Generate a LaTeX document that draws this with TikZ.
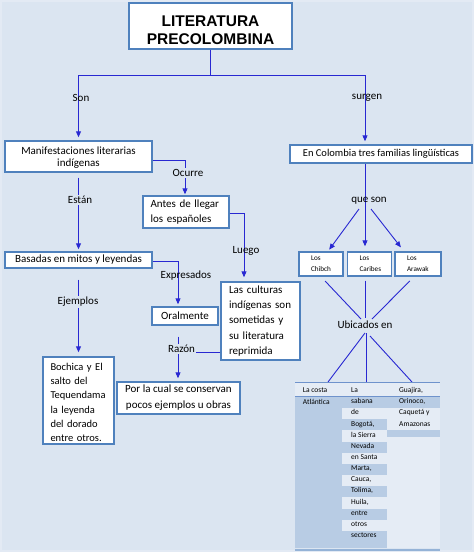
\documentclass[tikz,border=0pt]{standalone}
\usepackage{fontspec}
\setmainfont{Carlito}
\newfontfamily\titlefont{Liberation Sans}
\usetikzlibrary{arrows.meta}
\definecolor{bgc}{HTML}{DBE5F1}
\definecolor{bgedge}{HTML}{E3EAF4}
\definecolor{boxc}{HTML}{4F81BD}
\definecolor{arrc}{HTML}{2828D2}
\definecolor{cellL}{HTML}{E5ECF5}
\definecolor{cellD}{HTML}{B8CCE4}
\definecolor{tline}{HTML}{6F93CC}
\definecolor{tbot}{HTML}{95B3D7}
\begin{document}
\begin{tikzpicture}[x=1pt,y=-1pt,
  box/.style={draw=boxc,line width=1.4pt,fill=white,inner sep=0pt,font=\fontsize{11}{14}\selectfont},
  conn/.style={draw=arrc,line width=0.9pt},
  arr/.style={conn,-{Triangle[width=5pt,length=6pt]}},
  lab/.style={font=\fontsize{11}{13}\selectfont,inner sep=1pt},
  labf/.style={lab,fill=bgc},
  lbox/.style={box,align=left,text width=20pt,inner xsep=12pt,minimum height=24pt,font=\fontsize{7.2}{11}\selectfont},
  tbl/.style={font=\fontsize{7.5}{11}\selectfont,anchor=base west,inner sep=0pt}
]
\fill[bgc] (0,0) rectangle (474,552);
\draw[bgedge,line width=2pt] (1,1) rectangle (473,551);
\useasboundingbox (0,0) rectangle (474,552);

% boxes
\node[box,minimum width=163pt,minimum height=46pt,align=center,
  font=\titlefont\bfseries\fontsize{15.5}{18.6}\selectfont] (title) at (210.5,26) {\rule{0pt}{19pt}LITERATURA\\PRECOLOMBINA};
\node[box,minimum width=147pt,minimum height=31pt,align=center,font=\fontsize{11}{12.6}\selectfont] (mani) at (78.5,156.5) {\rule{0pt}{10pt}Manifestaciones literarias\\indígenas};
\node[box,minimum width=86pt,minimum height=32pt,align=left,text width=71pt,inner xsep=7.5pt,font=\fontsize{11}{14.7}\selectfont] (antes) at (186,212) {Antes de llegar\\los españoles};
\node[box,minimum width=147pt,minimum height=16pt] (basadas) at (78.5,260) {Basadas en mitos y leyendas};
\node[box,minimum width=66pt,minimum height=18pt] (oral) at (185,316) {Oralmente};
\node[box,minimum width=79pt,minimum height=78pt,align=left,text width=63pt,inner xsep=8pt,font=\fontsize{11}{15.4}\selectfont] (culturas) at (260.5,321) {Las culturas\\indígenas son\\sometidas y\\su literatura\\reprimida};
\node[box,minimum width=123pt,minimum height=32pt,align=center,font=\fontsize{11}{16}\selectfont] (por) at (178.5,398) {Por la cual se conservan\\pocos ejemplos u obras};
\node[box,minimum width=71pt,minimum height=87pt,align=left,text width=56pt,inner xsep=7.5pt,font=\fontsize{10.5}{14.1}\selectfont] (bochica) at (78.5,400.5) {\rule{0pt}{11pt}Bochica y El\\salto del\\Tequendama\\la leyenda\\del dorado\\entre otros.};
\node[box,minimum width=182pt,minimum height=18pt,font=\fontsize{10.5}{13}\selectfont] (colom) at (381,154) {En Colombia tres familias lingüísticas};
\node[lbox] (chibch) at (321,264) {Los\\Chibch};
\node[lbox] (caribes) at (369.5,264) {Los\\Caribes};
\node[lbox,text width=22pt] (arawak) at (418,264) {Los\\Arawak};

% connectors
\coordinate (j) at (210.5,75);
\draw[conn] (title.south) -- (j);
\draw[arr,shorten >=3pt] (j) -| (mani.north);
\draw[arr,shorten >=3pt] (j) -| ([xshift=-16pt]colom.north);
\draw[arr,shorten >=1pt] ([yshift=-3.5pt]mani.east) -| ([xshift=-1pt]antes.north);
\draw[arr,shorten >=4pt] ([yshift=-1pt]antes.east) -| ([xshift=-16.5pt]culturas.north);
\draw[arr,shorten <=5pt,shorten >=2pt] (mani.south) -- (basadas.north);
\draw[arr,shorten >=2pt] ([yshift=-1pt]basadas.east) -| ([xshift=-7pt]oral.north);
\draw[arr,shorten <=11pt,shorten >=4pt] (basadas.south) -- (bochica.north);
\draw[arr,shorten <=11pt,shorten >=3pt] ([xshift=-7pt]oral.south) -- ([xshift=-0.5pt]por.north);
\coordinate (rz) at (195,352);
\draw[conn] ([yshift=-31pt]culturas.west) -- (rz);

\coordinate (qs) at (365,210);
\coordinate (qsL) at (359,209);
\coordinate (qsR) at (371,209);
\draw[conn] ([xshift=-16pt]colom.south) -- (qs);
\draw[arr,shorten >=2pt] (qsL) -- ([xshift=7pt]chibch.north);
\draw[arr,shorten >=5pt] (qs) -- ([xshift=-4.5pt]caribes.north);
\draw[arr,shorten >=5pt] (qsR) -- ([xshift=-14pt]arawak.north);

\coordinate (ub1) at (361,319);
\coordinate (ub2) at (365,318);
\coordinate (ub3) at (372,319);
\draw[conn,shorten <=6pt] (chibch.south) -- (ub1);
\draw[conn,shorten <=4pt] ([xshift=-4.5pt]caribes.south) -- (ub2);
\draw[conn,shorten <=6pt] ([xshift=-4pt]arawak.south) -- (ub3);
\coordinate (ud1) at (365,333);
\coordinate (ud2) at (366,333);
\coordinate (ud3) at (370,336);
\coordinate (e1) at (328,382);
\coordinate (e2) at (366,382);
\coordinate (e3) at (412,382);
\draw[conn] (ud1) -- (e1);
\draw[conn] (ud2) -- (e2);
\draw[conn] (ud3) -- (e3);

% labels
\node[lab] (son) at (81,98) {Son};
\node[lab] (surgen) at (367,98) {surgen};
\node[labf] (ocurre) at (188,173) {Ocurre};
\node[labf] (estan) at (80,200) {Están};
\node[lab] (luego) at (246,251) {Luego};
\node[lab] (expr) at (186,276) {Expresados};
\node[labf] (ejem) at (78,302) {Ejemplos};
\node[labf] (razon) at (181.5,349) {Razón};
\node[lab] (queson) at (369,201) {que son};
\node[lab] (ubic) at (365,325) {Ubicados en};

% table
\coordinate (tl) at (295,382);
\coordinate (tr) at (440,382);
\fill[cellL] (295,383) rectangle (440,396);
\fill[cellD] (295,397) rectangle (342,548);
\foreach \k in {0,...,12}{
  \pgfmathsetmacro{\ya}{397+11.15*\k}
  \pgfmathsetmacro{\yb}{\k==12 ? 548 : 397+11.15*(\k+1)}
  \pgfmathparse{mod(\k,2)==0 ? 1 : 0}
  \ifnum\pgfmathresult=1
    \fill[cellD] (342,\ya) rectangle (387,\yb);
  \else
    \fill[cellL] (342,\ya) rectangle (387,\yb);
  \fi
}
\fill[cellD] (387,397) rectangle (440,407.5);
\fill[cellL] (387,407.5) rectangle (440,430);
\fill[cellD] (387,430) rectangle (440,437);
\fill[cellL] (387,437) rectangle (440,548);
\draw[tline,line width=0.8pt] (tl) -- (tr);
\draw[tline,line width=1.2pt] (295,396.5) -- (440,396.5);
\draw[tbot,line width=2pt] (295,549.5) -- (440,549.5);

\node[tbl] (c1a) at (302.7,392.6) {La costa};
\node[tbl] (c1b) at (302.7,404.3) {Atlántica};
\foreach \t [count=\i from 0] in {La,sabana,de,{Bogotá,},la Sierra,Nevada,en Santa,{Marta,},{Cauca,},{Tolima,},{Huila,},entre,otros,sectores}{
  \node[tbl] (c2-\i) at (351,{392.6+11.15*\i}) {\t};
}
\foreach \t [count=\i from 0] in {{Guajira,},{Orinoco,},Caquetá y,Amazonas}{
  \node[tbl] (c3-\i) at (399,{392.6+11.15*\i}) {\t};
}
\end{tikzpicture}
\end{document}
